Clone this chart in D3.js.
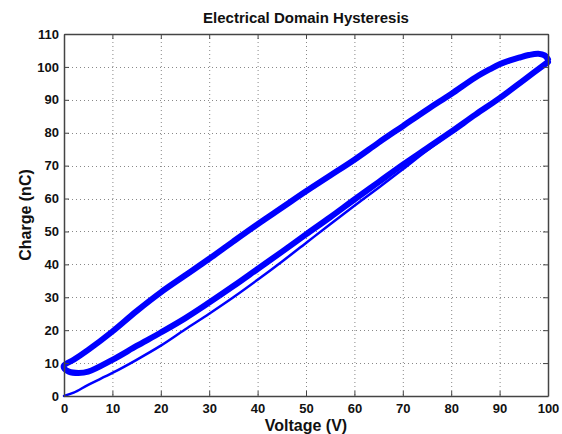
<!DOCTYPE html>
<html>
<head>
<meta charset="utf-8">
<script src="https://cdn.jsdelivr.net/npm/d3@7"></script>
<style>
  html, body { margin: 0; padding: 0; background: #fff; }
  text { font-family: "Liberation Sans", Arial, sans-serif; font-weight: bold; fill: #111; }
</style>
</head>
<body>
<svg id="chart" width="562" height="434"></svg>
<script>
// Initial charging pass (thin trace)
const initialV = [0, 2, 5, 10, 15, 20, 25, 30, 35, 40, 45, 50, 55, 60, 65, 70, 75, 80, 85, 90, 95, 100];
const initialQ = [0, 1, 3.4, 7, 11, 15.3, 20.2, 25, 30, 35.3, 40.8, 46.5, 52.2, 57.8, 63.3, 68.9, 74.6, 80, 85.5, 90.8, 96, 101.5];

// Discharge branch of the steady-state loop (upper)
const upperV = [100, 99.3, 98, 96, 94, 92, 90, 88, 85, 80, 75, 70, 65, 60, 55, 50, 45, 40, 35, 30, 25, 20, 15, 10, 5, 2, 0];
const upperQ = [102.3, 103.5, 104, 103.6, 102.8, 101.9, 100.8, 99.3, 96.8, 91.8, 87, 82, 77, 71.8, 67, 62.2, 57.2, 52.2, 47, 41.7, 36.6, 31.5, 25.8, 19.6, 14, 11, 9.3];

// Charge branch of the steady-state loop (lower)
const lowerV = [0, 1, 3, 5, 10, 15, 20, 25, 30, 35, 40, 45, 50, 55, 60, 65, 70, 75, 80, 85, 90, 95, 100];
const lowerQ = [8.5, 7.4, 7, 7.4, 11, 15.2, 19.3, 23.6, 28.4, 33.4, 38.6, 43.8, 49.1, 54.3, 59.7, 65, 70.3, 75.3, 80.3, 85.5, 90.5, 96, 101.5];

const xTicks = [0, 10, 20, 30, 40, 50, 60, 70, 80, 90, 100];
const yTicks = [0, 10, 20, 30, 40, 50, 60, 70, 80, 90, 100, 110];

const svg = d3.select("#chart");
const margin = { left: 64, right: 14, top: 34, bottom: 38 };
const W = 562, H = 434;
const x = d3.scaleLinear().domain([0, 100]).range([margin.left, W - margin.right]);
const y = d3.scaleLinear().domain([0, 110]).range([H - margin.bottom, margin.top]);

// dotted grid
const grid = svg.append("g").attr("stroke", "#888").attr("stroke-width", 1).attr("stroke-dasharray", "1,3");
grid.selectAll(".gx").data(xTicks.slice(1, -1)).join("line")
  .attr("x1", d => x(d) + 0.5).attr("x2", d => x(d) + 0.5)
  .attr("y1", y(110)).attr("y2", y(0));
grid.selectAll(".gy").data(yTicks.slice(1, -1)).join("line")
  .attr("y1", d => Math.round(y(d)) + 0.5).attr("y2", d => Math.round(y(d)) + 0.5)
  .attr("x1", x(0)).attr("x2", x(100));

// curves
const line = d3.line().x(d => x(d[0])).y(d => y(d[1])).curve(d3.curveCatmullRom.alpha(0.5));
const zip = (a, b) => a.map((v, i) => [v, b[i]]);

svg.append("path").datum(zip(initialV, initialQ))
  .attr("d", line).attr("fill", "none").attr("stroke", "#0000ff").attr("stroke-width", 2.5)
  .attr("stroke-linejoin", "round").attr("stroke-linecap", "round");

const loop = zip(upperV, upperQ).concat(zip(lowerV, lowerQ));
svg.append("path").datum(loop)
  .attr("d", line).attr("fill", "none").attr("stroke", "#0000ff").attr("stroke-width", 6)
  .attr("stroke-linejoin", "round").attr("stroke-linecap", "round");

// axes: bottom/left with labels, top/right as inward ticks only
const tick = 5;
const xAxisB = d3.axisBottom(x).tickValues(xTicks).tickSizeInner(-tick).tickSizeOuter(0).tickPadding(8);
const yAxisL = d3.axisLeft(y).tickValues(yTicks).tickSizeInner(-tick).tickSizeOuter(0).tickPadding(5);
const xAxisT = d3.axisTop(x).tickValues(xTicks).tickSizeInner(-tick).tickSizeOuter(0).tickFormat("");
const yAxisR = d3.axisRight(y).tickValues(yTicks).tickSizeInner(-tick).tickSizeOuter(0).tickFormat("");

function style(g) {
  g.selectAll("path.domain").attr("stroke", "#444").attr("stroke-width", 1.5);
  g.selectAll(".tick line").attr("stroke", "#444");
  g.selectAll(".tick text").attr("font-size", 13).attr("font-family", "Liberation Sans, Arial, sans-serif")
    .attr("font-weight", "bold").attr("fill", "#111");
}
svg.append("g").attr("transform", `translate(0,${y(0)})`).call(xAxisB).call(style);
svg.append("g").attr("transform", `translate(${x(0)},0)`).call(yAxisL).call(style);
svg.append("g").attr("transform", `translate(0,${y(110)})`).call(xAxisT).call(style);
svg.append("g").attr("transform", `translate(${x(100)},0)`).call(yAxisR).call(style);

// title and axis labels
svg.append("text").attr("x", (x(0) + x(100)) / 2).attr("y", 23).attr("text-anchor", "middle")
  .attr("font-size", 15).text("Electrical Domain Hysteresis");
svg.append("text").attr("x", (x(0) + x(100)) / 2).attr("y", 431).attr("text-anchor", "middle")
  .attr("font-size", 16).text("Voltage (V)");
svg.append("text").attr("transform", `translate(31,${(y(0) + y(110)) / 2}) rotate(-90)`)
  .attr("text-anchor", "middle").attr("font-size", 16).text("Charge (nC)");
</script>
</body>
</html>
